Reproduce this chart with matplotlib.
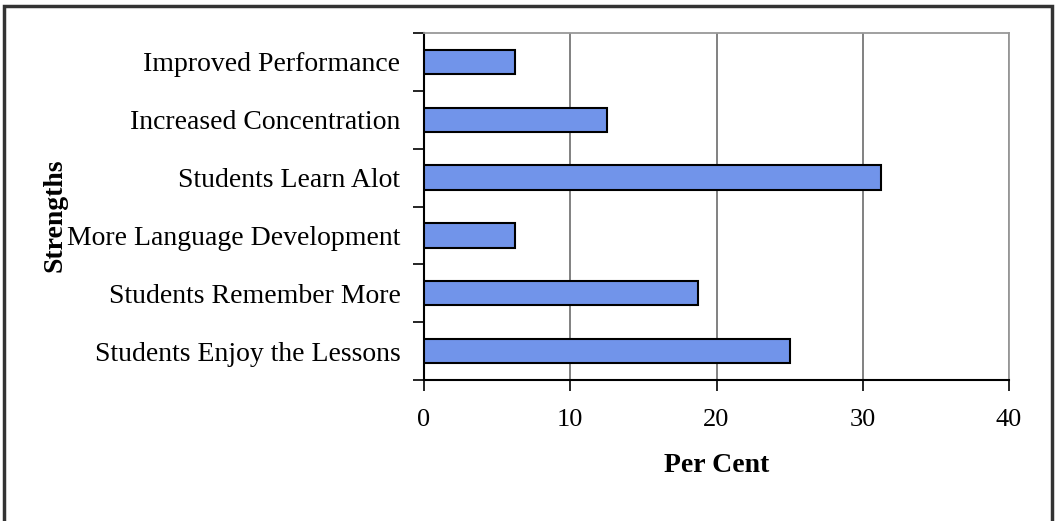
import numpy as np
import matplotlib.pyplot as plt
from matplotlib.patches import Rectangle

categories = ["Improved Performance", "Increased Concentration", "Students Learn Alot",
              "More Language Development", "Students Remember More", "Students Enjoy the Lessons"]
values = [6.25, 12.5, 31.25, 6.25, 18.75, 25.0]
xticks = [0, 10, 20, 30, 40]

plt.rcParams['font.family'] = ['Liberation Serif', 'DejaVu Serif']

fig = plt.figure(figsize=(10.57, 5.21), dpi=100)
fig.patches.append(Rectangle((4 / 1057, -0.02), 1048 / 1057, 1 - 6 / 521 + 0.02,
                             transform=fig.transFigure, fill=False,
                             edgecolor="#333333", linewidth=2.5))

ax = fig.add_axes([424 / 1057, 1 - 380 / 521, 585 / 1057, 347 / 521])
y = np.arange(len(categories))
ax.barh(y, values, height=0.42, color="#7194EA", edgecolor="black", linewidth=1.5, zorder=3)
ax.set_ylim(len(categories) - 0.5, -0.5)
ax.set_xlim(0, 40)
ax.set_xticks(xticks)
ax.set_xticklabels([str(t) for t in xticks], fontsize=19)
ax.set_yticks(y)
ax.set_yticklabels(categories, fontsize=20)
ax.tick_params(axis="y", length=0, pad=17)
ax.set_yticks(np.arange(-0.5, len(categories), 1), minor=True)
ax.tick_params(axis="y", which="minor", length=8, width=1.2, direction="out")
ax.tick_params(axis="x", length=8, width=1.2, direction="out", pad=13)

ax.grid(axis="x", color="#777777", linewidth=1.3, zorder=0)
for side in ["top", "right"]:
    ax.spines[side].set_color("#999999")
    ax.spines[side].set_linewidth(1.3)
for side in ["left", "bottom"]:
    ax.spines[side].set_color("black")
    ax.spines[side].set_linewidth(1.5)

ax.set_xlabel("Per Cent", fontsize=20, fontweight="bold", labelpad=16)
fig.text(55 / 1057, 1 - 215 / 521, "Strengths", rotation=90, fontsize=20,
         fontweight="bold", ha="center", va="center")

fig.savefig("out.png", dpi=100)
